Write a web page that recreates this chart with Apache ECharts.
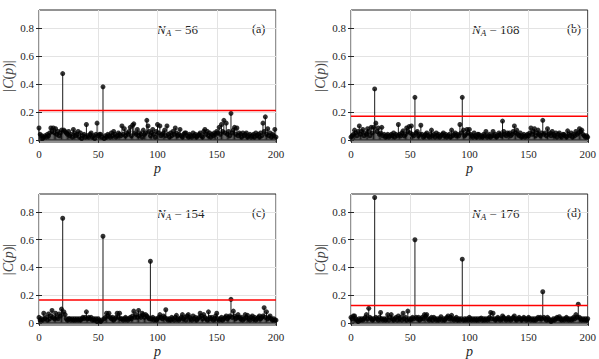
<!DOCTYPE html>
<html>
<head>
<meta charset="utf-8">
<script src="https://cdn.jsdelivr.net/npm/echarts@6/dist/echarts.min.js"></script>
<style>
  html, body { margin: 0; padding: 0; background: #fff; }
  #chart { width: 599px; height: 359px; }
</style>
</head>
<body>
<div id="chart"></div>
<script>
// |C(p)| for p = 0..200
const panelA = [
  0.085, 0.04, 0.03, 0.01, 0.02, 0.03, 0.02, 0.04, 0.03, 0.05,
  0.085, 0.06, 0.085, 0.05, 0.08, 0.04, 0.06, 0.03, 0.05, 0.07,
  0.475, 0.07, 0.06, 0.05, 0.04, 0.06, 0.03, 0.04, 0.02, 0.075,
  0.05, 0.03, 0.04, 0.06, 0.02, 0.05, 0.01, 0.03, 0.04, 0.02,
  0.11, 0.03, 0.02, 0.04, 0.05, 0.02, 0.03, 0.01, 0.04, 0.12,
  0.03, 0.04, 0.04, 0.02, 0.38, 0.01, 0.03, 0.02, 0.04, 0.03,
  0.02, 0.05, 0.03, 0.06, 0.04, 0.02, 0.03, 0.05, 0.04, 0.03,
  0.10, 0.04, 0.08, 0.03, 0.05, 0.04, 0.06, 0.09, 0.03, 0.105,
  0.115, 0.05, 0.04, 0.075, 0.03, 0.05, 0.04, 0.02, 0.07, 0.04,
  0.05, 0.14, 0.10, 0.06, 0.03, 0.05, 0.075, 0.04, 0.02, 0.06,
  0.11, 0.05, 0.10, 0.03, 0.04, 0.05, 0.07, 0.03, 0.10, 0.04,
  0.02, 0.05, 0.03, 0.06, 0.04, 0.085, 0.05, 0.03, 0.04, 0.075,
  0.03, 0.02, 0.04, 0.05, 0.05, 0.03, 0.02, 0.04, 0.03, 0.02,
  0.05, 0.03, 0.04, 0.02, 0.03, 0.04, 0.05, 0.03, 0.02, 0.06,
  0.075, 0.04, 0.06, 0.03, 0.05, 0.02, 0.04, 0.03, 0.05, 0.04,
  0.06, 0.05, 0.09, 0.04, 0.11, 0.06, 0.14, 0.05, 0.12, 0.04,
  0.06, 0.03, 0.19, 0.05, 0.07, 0.09, 0.04, 0.085, 0.03, 0.05,
  0.04, 0.02, 0.05, 0.03, 0.04, 0.05, 0.02, 0.03, 0.04, 0.02,
  0.03, 0.04, 0.02, 0.05, 0.03, 0.04, 0.02, 0.05, 0.03, 0.12,
  0.06, 0.165, 0.04, 0.08, 0.03, 0.05, 0.02, 0.04, 0.03, 0.075,
  0.02
];
const panelB = [
  0.02, 0.03, 0.04, 0.07, 0.05, 0.03, 0.06, 0.10, 0.04, 0.06,
  0.075, 0.03, 0.05, 0.04, 0.08, 0.06, 0.03, 0.09, 0.05, 0.09,
  0.365, 0.12, 0.06, 0.085, 0.04, 0.05, 0.09, 0.03, 0.04, 0.02,
  0.03, 0.04, 0.02, 0.03, 0.04, 0.03, 0.05, 0.02, 0.04, 0.03,
  0.11, 0.04, 0.03, 0.05, 0.065, 0.03, 0.04, 0.085, 0.06, 0.095,
  0.05, 0.10, 0.04, 0.03, 0.305, 0.05, 0.06, 0.03, 0.04, 0.105,
  0.04, 0.02, 0.03, 0.04, 0.05, 0.03, 0.02, 0.04, 0.07, 0.03,
  0.04, 0.02, 0.05, 0.03, 0.04, 0.02, 0.03, 0.04, 0.05, 0.03,
  0.04, 0.02, 0.03, 0.04, 0.02, 0.07, 0.03, 0.04, 0.05, 0.03,
  0.04, 0.03, 0.11, 0.05, 0.305, 0.07, 0.03, 0.04, 0.075, 0.05,
  0.075, 0.04, 0.03, 0.02, 0.05, 0.03, 0.02, 0.04, 0.04, 0.02,
  0.03, 0.02, 0.04, 0.03, 0.06, 0.02, 0.03, 0.04, 0.02, 0.03,
  0.06, 0.03, 0.04, 0.02, 0.03, 0.05, 0.04, 0.03, 0.135, 0.06,
  0.04, 0.03, 0.05, 0.04, 0.05, 0.03, 0.04, 0.06, 0.10, 0.05,
  0.07, 0.04, 0.03, 0.05, 0.02, 0.03, 0.04, 0.02, 0.03, 0.04,
  0.03, 0.05, 0.085, 0.04, 0.06, 0.08, 0.03, 0.05, 0.07, 0.04,
  0.03, 0.05, 0.14, 0.04, 0.05, 0.03, 0.08, 0.04, 0.05, 0.03,
  0.06, 0.04, 0.03, 0.05, 0.02, 0.04, 0.05, 0.03, 0.02, 0.04,
  0.04, 0.03, 0.02, 0.065, 0.04, 0.03, 0.05, 0.02, 0.04, 0.03,
  0.06, 0.04, 0.05, 0.08, 0.06, 0.07, 0.04, 0.03, 0.02, 0.03,
  0.02
];
const panelC = [
  0.04, 0.02, 0.03, 0.02, 0.07, 0.03, 0.04, 0.02, 0.065, 0.03,
  0.05, 0.09, 0.04, 0.03, 0.07, 0.04, 0.03, 0.065, 0.05, 0.10,
  0.755, 0.08, 0.06, 0.03, 0.02, 0.03, 0.03, 0.02, 0.03, 0.02,
  0.03, 0.02, 0.03, 0.02, 0.03, 0.02, 0.03, 0.04, 0.03, 0.04,
  0.08, 0.03, 0.04, 0.03, 0.04, 0.02, 0.03, 0.02, 0.03, 0.01,
  0.03, 0.02, 0.01, 0.02, 0.625, 0.03, 0.04, 0.07, 0.05, 0.07,
  0.04, 0.03, 0.04, 0.02, 0.03, 0.04, 0.07, 0.04, 0.07, 0.03,
  0.03, 0.02, 0.03, 0.04, 0.03, 0.02, 0.03, 0.04, 0.03, 0.05,
  0.085, 0.04, 0.06, 0.04, 0.09, 0.05, 0.04, 0.07, 0.06, 0.04,
  0.06, 0.05, 0.04, 0.03, 0.445, 0.03, 0.04, 0.02, 0.03, 0.02,
  0.03, 0.04, 0.06, 0.04, 0.03, 0.05, 0.04, 0.095, 0.03, 0.02,
  0.03, 0.02, 0.04, 0.03, 0.02, 0.04, 0.055, 0.03, 0.02, 0.03,
  0.04, 0.06, 0.03, 0.04, 0.02, 0.05, 0.06, 0.04, 0.03, 0.02,
  0.05, 0.03, 0.04, 0.02, 0.03, 0.04, 0.07, 0.05, 0.03, 0.06,
  0.04, 0.03, 0.02, 0.08, 0.04, 0.03, 0.04, 0.02, 0.03, 0.05,
  0.07, 0.03, 0.02, 0.03, 0.04, 0.02, 0.03, 0.04, 0.05, 0.03,
  0.04, 0.05, 0.17, 0.04, 0.085, 0.05, 0.03, 0.04, 0.06, 0.04,
  0.03, 0.04, 0.02, 0.03, 0.06, 0.04, 0.055, 0.03, 0.02, 0.04,
  0.05, 0.03, 0.04, 0.02, 0.03, 0.04, 0.05, 0.03, 0.04, 0.05,
  0.11, 0.04, 0.08, 0.03, 0.04, 0.05, 0.03, 0.02, 0.03, 0.02,
  0.02
];
const panelD = [
  0.04, 0.03, 0.05, 0.05, 0.03, 0.02, 0.01, 0.03, 0.02, 0.03,
  0.02, 0.03, 0.04, 0.06, 0.03, 0.105, 0.04, 0.03, 0.02, 0.03,
  0.905, 0.04, 0.03, 0.02, 0.04, 0.075, 0.03, 0.02, 0.03, 0.02,
  0.03, 0.06, 0.02, 0.04, 0.06, 0.03, 0.02, 0.03, 0.04, 0.02,
  0.05, 0.03, 0.04, 0.02, 0.07, 0.03, 0.04, 0.02, 0.085, 0.03,
  0.02, 0.03, 0.04, 0.03, 0.60, 0.04, 0.03, 0.04, 0.02, 0.03,
  0.04, 0.03, 0.06, 0.05, 0.06, 0.03, 0.02, 0.03, 0.04, 0.02,
  0.04, 0.03, 0.02, 0.03, 0.02, 0.03, 0.045, 0.02, 0.03, 0.02,
  0.03, 0.04, 0.05, 0.03, 0.04, 0.055, 0.03, 0.02, 0.03, 0.04,
  0.02, 0.03, 0.02, 0.03, 0.46, 0.02, 0.03, 0.02, 0.03, 0.02,
  0.04, 0.03, 0.02, 0.03, 0.02, 0.03, 0.02, 0.03, 0.02, 0.03,
  0.035, 0.02, 0.03, 0.02, 0.03, 0.02, 0.03, 0.04, 0.075, 0.03,
  0.07, 0.03, 0.02, 0.03, 0.04, 0.03, 0.02, 0.03, 0.05, 0.04,
  0.03, 0.02, 0.03, 0.04, 0.03, 0.02, 0.03, 0.04, 0.05, 0.03,
  0.02, 0.03, 0.04, 0.03, 0.02, 0.03, 0.04, 0.03, 0.02, 0.03,
  0.04, 0.03, 0.02, 0.03, 0.02, 0.03, 0.02, 0.03, 0.04, 0.03,
  0.04, 0.03, 0.225, 0.04, 0.03, 0.02, 0.04, 0.03, 0.02, 0.01,
  0.02, 0.03, 0.02, 0.03, 0.04, 0.03, 0.045, 0.03, 0.02, 0.03,
  0.02, 0.03, 0.04, 0.03, 0.02, 0.03, 0.02, 0.03, 0.04, 0.03,
  0.06, 0.04, 0.135, 0.04, 0.03, 0.02, 0.03, 0.02, 0.03, 0.02,
  0.03
];

const panels = [panelA, panelB, panelC, panelD];
const thresholds = [0.21, 0.17, 0.165, 0.125];   // red lines
const naValues = [56, 108, 154, 176];
const panelTags = ['(a)', '(b)', '(c)', '(d)'];
const yTicks = [0, 0.2, 0.4, 0.6, 0.8];
const pRange = [0, 200];

const chart = echarts.init(document.getElementById('chart'), null, { renderer: 'svg' });

const font = 'Liberation Serif';
const axisColor = '#262626';

// plot boxes (px)
const boxes = [
  { left: 37, top: 10, width: 239, height: 132 },
  { left: 351, top: 10, width: 240, height: 132 },
  { left: 37, top: 194, width: 239, height: 132 },
  { left: 351, top: 194, width: 240, height: 132 }
];

const grid = [], xAxis = [], yAxis = [], series = [], graphic = [];
const mirrorX = [], mirrorY = [];

boxes.forEach((b, i) => {
  grid.push({
    left: b.left, top: b.top, width: b.width, height: b.height,
    show: true, borderColor: axisColor, borderWidth: 1,
    backgroundColor: 'transparent'
  });

  xAxis.push({
    gridIndex: i,
    type: 'value',
    min: pRange[0], max: pRange[1], interval: 50,
    name: 'p',
    nameLocation: 'middle',
    nameGap: 19,
    nameTextStyle: { fontFamily: font, fontStyle: 'italic', fontSize: 14, color: axisColor },
    axisLine: { show: false },
    axisTick: { inside: true, length: 3, lineStyle: { color: axisColor } },
    axisLabel: { fontFamily: font, fontSize: 11, color: axisColor, margin: 6 },
    splitLine: { show: true, lineStyle: { color: '#e3e3e3', width: 1 } }
  });
  // box ticks on top
  mirrorX.push({
    gridIndex: i, type: 'value', position: 'top',
    min: pRange[0], max: pRange[1], interval: 50,
    axisLine: { show: false },
    axisTick: { inside: true, length: 3, lineStyle: { color: axisColor } },
    axisLabel: { show: false },
    splitLine: { show: false }
  });

  yAxis.push({
    gridIndex: i,
    type: 'value',
    min: -0.015, max: 0.93,
    name: '{u||}{i|C}{u|(}{i|p}{u|)|}',
    nameLocation: 'middle',
    nameGap: 24,
    nameRotate: 90,
    nameTextStyle: {
      color: axisColor,
      rich: {
        u: { fontFamily: font, fontSize: 14, color: '#444' },
        i: { fontFamily: font, fontSize: 14, fontStyle: 'italic', color: '#444' }
      }
    },
    axisLine: { show: false },
    axisTick: { inside: true, length: 3, customValues: yTicks, lineStyle: { color: axisColor } },
    axisLabel: {
      customValues: yTicks, fontFamily: font, fontSize: 11, color: axisColor, margin: 5,
      formatter: v => String(Math.round(v * 10) / 10)
    },
    splitLine: { show: true, lineStyle: { color: '#e3e3e3', width: 1 } }
  });
  // box ticks on the right
  mirrorY.push({
    gridIndex: i, type: 'value', position: 'right',
    min: -0.015, max: 0.93,
    axisLine: { show: false },
    axisTick: { inside: true, length: 3, customValues: yTicks, lineStyle: { color: axisColor } },
    axisLabel: { show: false, customValues: yTicks },
    splitLine: { show: false }
  });

  const pts = panels[i].map((v, p) => [p, v]);

  // stems
  series.push({
    type: 'bar',
    xAxisIndex: i, yAxisIndex: i,
    data: pts,
    barWidth: 1,
    itemStyle: { color: '#1a1a1a' },
    silent: true,
    z: 2
  });

  // stem baseline
  series.push({
    type: 'line',
    xAxisIndex: i, yAxisIndex: i,
    data: pRange.map(p => [p, 0]),
    symbol: 'none',
    lineStyle: { color: '#333', width: 1.5 },
    silent: true,
    z: 2
  });

  // stem heads
  series.push({
    type: 'scatter',
    xAxisIndex: i, yAxisIndex: i,
    data: pts,
    symbol: 'circle',
    symbolSize: 5,
    itemStyle: { color: '#000' },
    silent: true,
    z: 3
  });

  // threshold (red)
  series.push({
    type: 'line',
    xAxisIndex: i, yAxisIndex: i,
    data: pRange.map(p => [p, thresholds[i]]),
    symbol: 'none',
    lineStyle: { color: '#ff0000', width: 1.5 },
    silent: true,
    z: 4
  });

  const right = i % 2 === 1;
  const top = i < 2 ? 23 : 207;
  graphic.push({
    type: 'text',
    left: right ? 472 : 157,
    top: top,
    style: {
      text: '{n|N}{s|A}{t| = ' + naValues[i] + '}',
      rich: {
        n: { fontFamily: font, fontSize: 13, fontStyle: 'italic', fill: axisColor },
        s: { fontFamily: font, fontSize: 9, fontStyle: 'italic', fill: axisColor, padding: [7, 0, 0, 0] },
        t: { fontFamily: font, fontSize: 13, fill: axisColor }
      }
    }
  });
  graphic.push({
    type: 'text',
    left: right ? 567 : 252,
    top: top,
    style: { text: panelTags[i], font: '12px ' + font, fill: axisColor }
  });
});

chart.setOption({
  animation: false,
  backgroundColor: '#fff',
  grid,
  xAxis: xAxis.concat(mirrorX),
  yAxis: yAxis.concat(mirrorY),
  series, graphic
});
</script>
</body>
</html>
